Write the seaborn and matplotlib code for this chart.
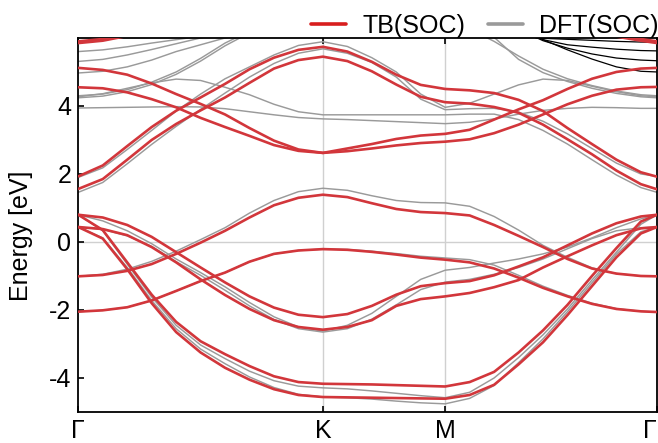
import numpy as np
import pandas as pd
import matplotlib
matplotlib.use("Agg")
import matplotlib.pyplot as plt
from matplotlib.lines import Line2D
import seaborn as sns

# ---------------- data ----------------
K_GK = [0.0, 0.1, 0.2, 0.3, 0.4, 0.5, 0.6, 0.7, 0.8, 0.9, 1.0]
K_KM = [1.1, 1.2, 1.3, 1.4, 1.5]
K_MG = [1.6, 1.7, 1.8, 1.9, 2.0, 2.1, 2.2, 2.3, 2.366]
K_PATH = K_GK + K_KM + K_MG

tick_pos = [0.0, 1.0, 1.5, 2.366]
tick_labels = ["Γ", "K", "M", "Γ"]

# TB(SOC) bands along Γ-K-M-Γ
tb_A = [-1.01, -0.97, -0.85, -0.65, -0.35, -0.02, 0.33, 0.72, 1.08, 1.30, 1.39,
        1.32, 1.14, 0.97, 0.88, 0.85,
        0.78, 0.50, 0.18, -0.15, -0.50, -0.78, -0.93, -1.00, -1.01]
tb_B = [-2.05, -2.01, -1.92, -1.72, -1.44, -1.15, -0.90, -0.58, -0.35, -0.25, -0.21,
        -0.23, -0.29, -0.37, -0.46, -0.52,
        -0.60, -0.78, -1.05, -1.35, -1.60, -1.82, -1.97, -2.04, -2.06]
tb_C1 = [0.80, 0.72, 0.50, 0.15, -0.30, -0.75, -1.19, -1.60, -1.93, -2.14, -2.21,
         -2.12, -1.88, -1.55, -1.30, -1.21,
         -1.15, -0.98, -0.72, -0.45, -0.10, 0.25, 0.55, 0.75, 0.80]
tb_C2 = [0.44, 0.38, 0.20, -0.15, -0.60, -1.10, -1.56, -1.97, -2.30, -2.50, -2.58,
         -2.50, -2.30, -1.88, -1.68, -1.60,
         -1.50, -1.33, -1.12, -0.75, -0.42, -0.10, 0.20, 0.40, 0.44]
tb_D1 = [0.80, 0.35, -0.60, -1.55, -2.35, -2.92, -3.30, -3.65, -3.95, -4.12, -4.17,
         -4.18, -4.19, -4.21, -4.23, -4.25,
         -4.12, -3.82, -3.25, -2.60, -1.85, -1.00, -0.18, 0.60, 0.80]
tb_D2 = [0.44, 0.10, -0.80, -1.80, -2.65, -3.25, -3.70, -4.05, -4.33, -4.50, -4.56,
         -4.57, -4.58, -4.59, -4.60, -4.61,
         -4.50, -4.20, -3.60, -2.95, -2.15, -1.30, -0.45, 0.25, 0.44]
tb_E1 = [1.56, 1.85, 2.42, 3.00, 3.47, 3.87, 4.25, 4.68, 5.10, 5.35, 5.45,
         5.32, 5.02, 4.63, 4.27, 4.11,
         4.07, 3.97, 3.80, 3.45, 3.02, 2.58, 2.10, 1.70, 1.55]
tb_E2 = [1.93, 2.25, 2.82, 3.38, 3.86, 4.25, 4.65, 5.08, 5.42, 5.65, 5.74,
         5.60, 5.30, 4.92, 4.62, 4.50,
         4.46, 4.38, 4.18, 3.85, 3.35, 2.88, 2.42, 2.05, 1.92]
tb_F1 = [4.55, 4.52, 4.40, 4.20, 3.96, 3.65, 3.38, 3.12, 2.85, 2.68, 2.62,
         2.67, 2.75, 2.84, 2.91, 2.95,
         3.02, 3.20, 3.45, 3.75, 4.05, 4.30, 4.48, 4.55, 4.56]
tb_F2 = [5.12, 5.06, 4.92, 4.66, 4.35, 4.06, 3.75, 3.35, 2.98, 2.72, 2.62,
         2.75, 2.88, 3.03, 3.13, 3.18,
         3.30, 3.60, 3.90, 4.17, 4.50, 4.80, 5.00, 5.10, 5.12]
# top TB bands, only visible near Γ
k_top_left = [0.0, 0.1, 0.2]
tb_T1_left = [5.85, 5.92, 6.06]
tb_T2_left = [5.90, 5.97, 6.12]
k_top_right = [2.2, 2.3, 2.366]
tb_T1_right = [6.04, 5.92, 5.85]
tb_T2_right = [6.10, 5.97, 5.90]

# DFT(SOC) bands along Γ-K-M-Γ
dft_A = [-1.01, -0.95, -0.80, -0.57, -0.27, 0.07, 0.42, 0.85, 1.22, 1.48, 1.58,
         1.52, 1.36, 1.22, 1.16, 1.15,
         1.05, 0.75, 0.35, -0.10, -0.45, -0.76, -0.93, -1.00, -1.01]
dft_B = [-2.05, -2.01, -1.92, -1.72, -1.44, -1.15, -0.90, -0.58, -0.35, -0.25, -0.21,
         -0.22, -0.27, -0.34, -0.42, -0.47,
         -0.52, -0.68, -0.98, -1.30, -1.57, -1.80, -1.96, -2.04, -2.06]
dft_C1 = [0.80, 0.62, 0.33, -0.05, -0.50, -0.90, -1.32, -1.78, -2.20, -2.50, -2.62,
          -2.45, -2.10, -1.60, -1.10, -0.83,
          -0.75, -0.62, -0.50, -0.35, -0.15, 0.12, 0.42, 0.68, 0.80]
dft_C2 = [0.44, 0.37, 0.18, -0.13, -0.58, -0.98, -1.42, -1.88, -2.28, -2.55, -2.65,
          -2.55, -2.27, -1.85, -1.40, -1.18,
          -1.10, -0.95, -0.75, -0.50, -0.20, 0.10, 0.33, 0.42, 0.44]
dft_D1 = [0.80, 0.33, -0.65, -1.62, -2.45, -3.03, -3.43, -3.80, -4.08, -4.24, -4.29,
          -4.32, -4.38, -4.45, -4.52, -4.58,
          -4.42, -4.00, -3.40, -2.73, -1.97, -1.12, -0.30, 0.52, 0.80]
dft_D2 = [0.44, 0.12, -0.75, -1.72, -2.55, -3.15, -3.58, -3.97, -4.28, -4.48, -4.56,
          -4.58, -4.62, -4.68, -4.73, -4.76,
          -4.60, -4.22, -3.55, -2.85, -2.05, -1.20, -0.36, 0.30, 0.44]
dft_X1 = [1.90, 2.18, 2.72, 3.28, 3.85, 4.35, 4.80, 5.15, 5.50, 5.78, 5.89,
          5.75, 5.42, 5.00, 4.35, 3.96,
          4.08, 4.35, 4.62, 4.79, 4.75, 4.58, 4.42, 4.30, 4.27]
dft_X2 = [1.46, 1.75, 2.30, 2.87, 3.40, 3.90, 4.38, 4.85, 5.25, 5.55, 5.68,
          5.55, 5.28, 4.85, 4.20, 3.89,
          3.92, 3.93, 3.82, 3.55, 3.18, 2.75, 2.32, 2.00, 1.93]
dft_H = [4.27, 4.36, 4.52, 4.68, 4.79, 4.75, 4.55, 4.33, 4.05, 3.83, 3.74,
         3.74, 3.74, 3.74, 3.74, 3.74,
         3.76, 3.76, 3.60, 3.28, 2.88, 2.42, 1.97, 1.60, 1.46]
dft_F = [3.94, 3.95, 3.96, 3.97, 3.98, 3.97, 3.92, 3.83, 3.74, 3.66, 3.62,
         3.60, 3.57, 3.54, 3.51, 3.48,
         3.52, 3.62, 3.76, 3.87, 3.93, 3.96, 3.95, 3.93, 3.93]
# DFT bands leaving the top of the window
k_up = [0.0, 0.1, 0.2, 0.3, 0.4, 0.5, 0.6, 0.7]
dft_U1 = [5.60, 5.65, 5.74, 5.85, 5.95, 6.05, 6.15, 6.25]
dft_U2 = [5.31, 5.37, 5.50, 5.66, 5.83, 6.00, 6.15, 6.30]
dft_U3 = [4.97, 5.02, 5.15, 5.35, 5.60, 5.80, 6.00, 6.15]
dft_R1 = [4.30, 4.35, 4.48, 4.70, 5.00, 5.40, 5.85, 6.20]
dft_R2 = [4.24, 4.29, 4.42, 4.63, 4.93, 5.32, 5.77, 6.15]
k_down = [1.65, 1.7, 1.8, 1.9, 2.0, 2.1, 2.2, 2.3, 2.366]
dft_T1 = [6.08, 5.90, 5.47, 5.08, 4.80, 4.60, 4.44, 4.33, 4.30]
dft_T2 = [6.20, 6.02, 5.37, 4.98, 4.72, 4.52, 4.37, 4.27, 4.24]
# black DFT bands near the right Γ
k_black = [1.87, 1.9, 2.0, 2.1, 2.2, 2.3, 2.366]
blk_1 = [6.00, 5.99, 5.96, 5.93, 5.90, 5.88, 5.87]
blk_2 = [6.03, 5.95, 5.80, 5.73, 5.67, 5.63, 5.62]
blk_3 = [6.02, 5.92, 5.70, 5.53, 5.41, 5.35, 5.33]
blk_4 = [6.06, 5.95, 5.65, 5.38, 5.15, 5.02, 5.00]

# ---------------- long table ----------------
rows = []
def add(name, kind, ks, es):
    for kk, ee in zip(ks, es):
        rows.append((name, kind, kk, ee))

tb_full = {"A": tb_A, "B": tb_B, "C1": tb_C1, "C2": tb_C2, "D1": tb_D1, "D2": tb_D2,
           "E1": tb_E1, "E2": tb_E2, "F1": tb_F1, "F2": tb_F2}
for n, v in tb_full.items():
    add("tb_" + n, "TB", K_PATH, v)
add("tb_T1L", "TB", k_top_left, tb_T1_left)
add("tb_T2L", "TB", k_top_left, tb_T2_left)
add("tb_T1R", "TB", k_top_right, tb_T1_right)
add("tb_T2R", "TB", k_top_right, tb_T2_right)

dft_full = {"A": dft_A, "B": dft_B, "C1": dft_C1, "C2": dft_C2, "D1": dft_D1,
            "D2": dft_D2, "X1": dft_X1, "X2": dft_X2, "H": dft_H, "F": dft_F}
for n, v in dft_full.items():
    add("dft_" + n, "DFT", K_PATH, v)
for n, v in {"U1": dft_U1, "U2": dft_U2, "U3": dft_U3, "R1": dft_R1, "R2": dft_R2}.items():
    add("dft_" + n, "DFT", k_up, v)
add("dft_T1", "DFT", k_down, dft_T1)
add("dft_T2", "DFT", k_down, dft_T2)
for i, v in enumerate([blk_1, blk_2, blk_3, blk_4]):
    add("blk_%d" % i, "BLK", k_black, v)

df = pd.DataFrame(rows, columns=["band", "kind", "k", "E"])

# ---------------- plot ----------------
sns.set_theme(style="ticks")
plt.rcParams["font.family"] = ["Liberation Sans", "DejaVu Sans"]
plt.rcParams["text.color"] = "black"
plt.rcParams["axes.labelcolor"] = "black"
plt.rcParams["xtick.color"] = "black"
plt.rcParams["ytick.color"] = "black"

RED = "#d2363b"
GRAY = "#9a9a9a"
FS = 18

fig = plt.figure(figsize=(6.58, 4.43), dpi=100)
ax = fig.add_axes([0.119, 0.07, 0.8795, 0.8443])

for p in tick_pos[1:-1]:
    ax.axvline(p, color="#d0d0d0", lw=1.0, zorder=0)
ax.axhline(0, color="#d0d0d0", lw=1.0, zorder=0)

sns.lineplot(data=df[df.kind == "DFT"], x="k", y="E", units="band", estimator=None,
             sort=False, color=GRAY, lw=1.05, ax=ax, zorder=2, legend=False)
sns.lineplot(data=df[df.kind == "BLK"], x="k", y="E", units="band", estimator=None,
             sort=False, color="black", lw=0.9, ax=ax, zorder=2.5, legend=False)
sns.lineplot(data=df[df.kind == "TB"], x="k", y="E", units="band", estimator=None,
             sort=False, color=RED, lw=1.9, ax=ax, zorder=3, legend=False)

ax.set_xlim(0, 2.366)
ax.set_ylim(-5, 6)
ax.set_xticks(tick_pos)
ax.set_xticklabels(tick_labels)
ax.get_xticklabels()[-1].set_horizontalalignment("right")
ax.set_yticks([-4, -2, 0, 2, 4])
ax.set_yticklabels(["-4", "-2", "0", "2", "4"])
ax.set_xlabel("")
ax.set_ylabel("Energy [eV]", fontsize=FS, color="black")
ax.yaxis.set_label_coords(-0.078, 0.47)
ax.tick_params(axis="both", direction="in", length=4, width=1.2, labelsize=FS,
               top=True, bottom=True, left=True, right=False,
               colors="black", labelcolor="black")
ax.tick_params(axis="x", pad=5)
ax.tick_params(axis="y", pad=5)
for s in ax.spines.values():
    s.set_linewidth(1.3)
    s.set_color("black")
    s.set_visible(True)

handles = [Line2D([0], [0], color="#d81e1e", lw=2.6),
           Line2D([0], [0], color=GRAY, lw=2.6)]
leg = ax.legend(handles, ["TB(SOC)", "DFT(SOC)"], ncol=2, loc="lower right",
                bbox_to_anchor=(1.003, 1.0), frameon=False, fontsize=FS,
                handlelength=1.4, handletextpad=0.65, columnspacing=0.9,
                borderaxespad=0.0, borderpad=0.0, labelcolor="black")

fig.savefig("out.png", dpi=100)
